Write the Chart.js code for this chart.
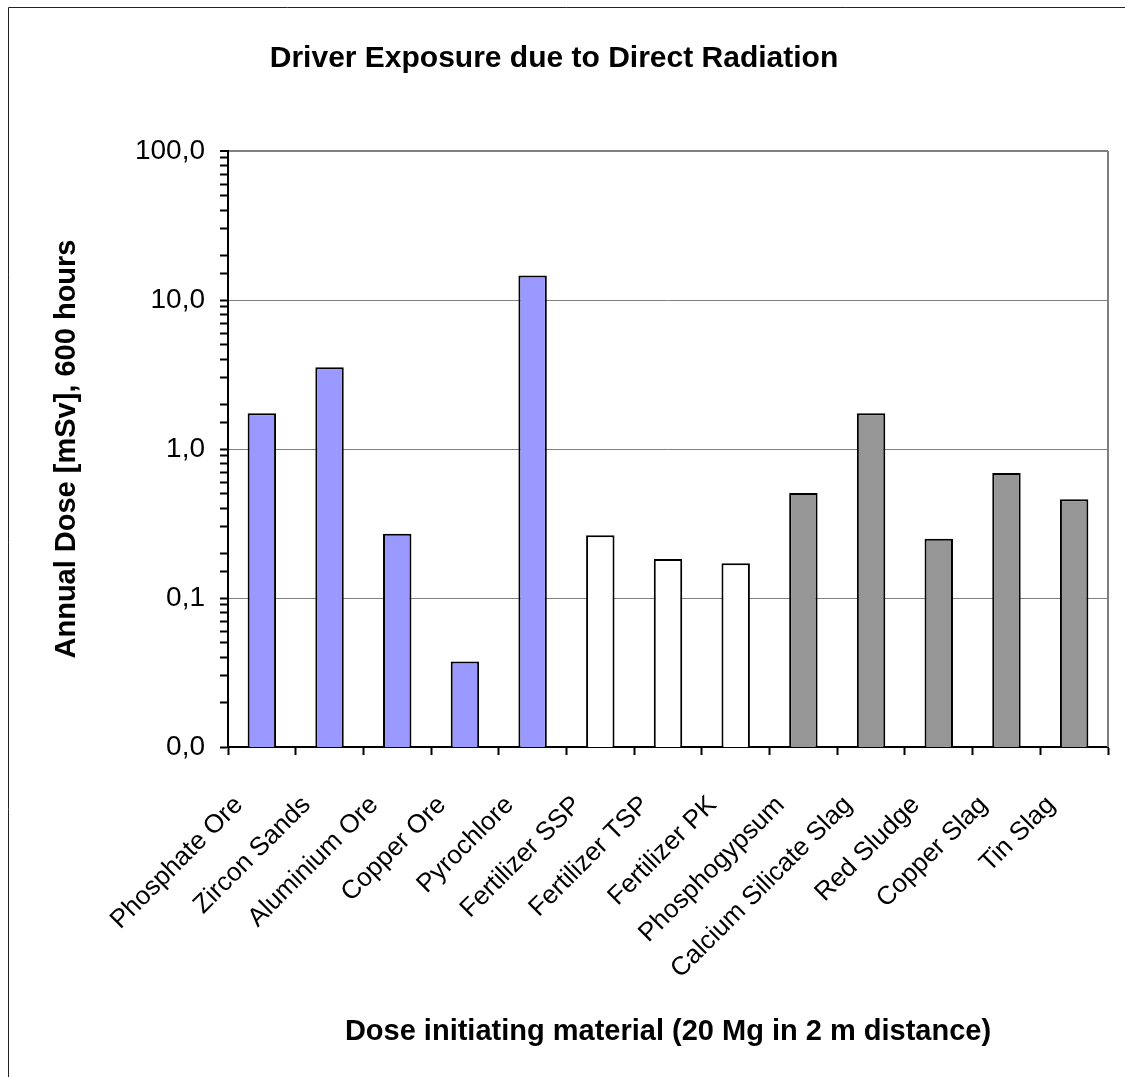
<!DOCTYPE html>
<html>
<head>
<meta charset="utf-8">
<script src="https://cdn.jsdelivr.net/npm/chart.js@4.4.1/dist/chart.umd.min.js"></script>
<style>
  html, body { margin: 0; padding: 0; background: #fff; }
  canvas { display: block; }
</style>
</head>
<body>
<canvas id="c" width="1125" height="1077"></canvas>
<script>
const categories = ['Phosphate Ore', 'Zircon Sands', 'Aluminium Ore', 'Copper Ore', 'Pyrochlore',
  'Fertilizer SSP', 'Fertilizer TSP', 'Fertilizer PK', 'Phosphogypsum',
  'Calcium Silicate Slag', 'Red Sludge', 'Copper Slag', 'Tin Slag'];
const doseValues = [1.74, 3.54, 0.27, 0.0375, 14.6, 0.264, 0.183, 0.171, 0.507, 1.74, 0.25, 0.69, 0.46];
const groups = ['ore', 'ore', 'ore', 'ore', 'ore', 'fert', 'fert', 'fert', 'slag', 'slag', 'slag', 'slag', 'slag'];
const groupColors = { ore: '#9999FF', fert: '#FFFFFF', slag: '#969696' };
const yMin = 0.01, yMax = 100;

const FONT = "'Liberation Sans', Arial, sans-serif";

function isPow10(v) {
  const l = Math.log10(v);
  return Math.abs(l - Math.round(l)) < 1e-9;
}

const framePlugin = {
  id: 'frame',
  beforeDraw(chart) {
    const ctx = chart.ctx;
    ctx.save();
    ctx.fillStyle = '#fff';
    ctx.fillRect(0, 0, chart.width, chart.height);
    ctx.strokeStyle = '#222';
    ctx.lineWidth = 1;
    ctx.beginPath();
    ctx.moveTo(8.5, chart.height);
    ctx.lineTo(8.5, 7.5);
    ctx.lineTo(chart.width, 7.5);
    ctx.stroke();
    ctx.restore();
  },
  beforeDatasetsDraw(chart) {
    const a = chart.chartArea;
    const ctx = chart.ctx;
    ctx.save();
    ctx.strokeStyle = '#808080';
    ctx.lineWidth = 2;
    ctx.beginPath();
    ctx.moveTo(a.right, a.top);
    ctx.lineTo(a.right, a.bottom);
    ctx.stroke();
    ctx.restore();
  }
};

new Chart(document.getElementById('c'), {
  type: 'bar',
  data: {
    labels: categories,
    datasets: [{
      data: doseValues,
      backgroundColor: groups.map(g => groupColors[g]),
      borderColor: '#000',
      borderWidth: 2,
      categoryPercentage: 1.0,
      barPercentage: 0.42
    }]
  },
  options: {
    responsive: false,
    devicePixelRatio: 1,
    animation: false,
    layout: { padding: { left: 0, right: 17, top: 0, bottom: 0 } },
    plugins: {
      legend: { display: false },
      tooltip: { enabled: false },
      title: {
        display: true,
        text: 'Driver Exposure due to Direct Radiation',
        color: '#000',
        font: { family: FONT, size: 30, weight: 'bold' },
        padding: { top: 41, bottom: 74 }
      }
    },
    scales: {
      x: {
        type: 'category',
        offset: true,
        grid: {
          offset: true,
          drawOnChartArea: false,
          drawTicks: true,
          tickLength: 8,
          tickColor: '#000',
          tickWidth: 2
        },
        border: { color: '#000', width: 2 },
        ticks: {
          color: '#000',
          font: { family: FONT, size: 26 },
          maxRotation: 45,
          minRotation: 45,
          autoSkip: false,
          padding: 35,
          labelOffset: -23
        },
        title: {
          display: true,
          text: 'Dose initiating material (20 Mg in 2 m distance)',
          color: '#000',
          font: { family: FONT, size: 29, weight: 'bold' },
          padding: { top: 28, bottom: 28 }
        },
        afterFit(scale) {
          scale.height = 330;
          scale.paddingLeft = 0;
          scale.paddingRight = 0;
        }
      },
      y: {
        type: 'logarithmic',
        min: yMin,
        max: yMax,
        grid: {
          color: ctx => (ctx.tick && isPow10(ctx.tick.value)) ? '#808080' : 'rgba(0,0,0,0)',
          lineWidth: ctx => (ctx.tick && ctx.tick.value === yMax) ? 2 : 1,
          tickLength: 8,
          tickColor: '#000',
          tickWidth: 2
        },
        border: { color: '#000', width: 2 },
        ticks: {
          color: '#000',
          font: { family: FONT, size: 28 },
          autoSkip: false,
          padding: 15,
          callback: v => isPow10(v) ? v.toFixed(1).replace('.', ',') : ''
        },
        title: {
          display: true,
          text: 'Annual Dose [mSv], 600 hours',
          color: '#000',
          font: { family: FONT, size: 29, weight: 'bold' },
          padding: { top: 50, bottom: 0 }
        },
        afterFit(scale) {
          scale.width = 228;
        }
      }
    }
  },
  plugins: [framePlugin]
});
</script>
</body>
</html>
